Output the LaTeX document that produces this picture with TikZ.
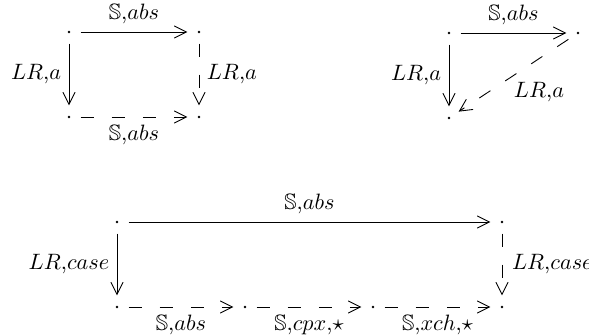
\documentclass[tikz,border=0pt]{standalone}
\usepackage{amsmath, amssymb}
\usepackage{tikz}
\usetikzlibrary{arrows.meta}

\begin{document}
\begin{tikzpicture}[x=0.45pt, y=-0.45pt,
    dotnode/.style={circle, inner sep=0pt, minimum size=10pt},
    arr/.style={-{Straight Barb[length=5.5pt, width=5.5pt]}},
    dasharr/.style={arr, dash pattern=on 6pt off 8pt}]
    \useasboundingbox (0,0) rectangle (589,336);

    % Objects
    \foreach \n/\x/\y in {a/69/32, b/199/32, c/69/117, d/199/117,
                          e/449/33, f/578/33, g/449/118,
                          h/117/222, i/502/222, j/117/307, k/245/307, l/373/307, m/502/307} {
      \node[dotnode] (\n) at (\x,\y) {};
      \fill (\n) circle (0.6pt);
    }

    % Square
    \draw[arr] (a) -- node[above] {$\mathbb{S}$,$abs$} (b);
    \draw[arr] (a) -- node[left] {$LR$,$a$} (c);
    \draw[dasharr] (b) -- node[right] {$LR$,$a$} (d);
    \draw[dasharr] (c) -- node[below] {$\mathbb{S}$,$abs$} (d);

    % Triangle
    \draw[arr] (e) -- node[above] {$\mathbb{S}$,$abs$} (f);
    \draw[arr] (e) -- node[left] {$LR$,$a$} (g);
    \draw[dasharr] (f) -- node[anchor=north west, inner sep=0pt, yshift=-3pt] {$LR$,$a$} (g);

    % Long rectangle
    \draw[arr] (h) -- node[above] {$\mathbb{S}$,$abs$} (i);
    \draw[arr] (h) -- node[left] {$LR$,$case$} (j);
    \draw[dasharr] (i) -- node[right, xshift=1pt] {$LR$,$case$} (m);
    \draw[dasharr] (j) -- node[below] {$\mathbb{S}$,$abs$} (k);
    \draw[dasharr] (k) -- node[below] {$\mathbb{S}$,$cpx$,$\star$} (l);
    \draw[dasharr] (l) -- node[below] {$\mathbb{S}$,$xch$,$\star$} (m);
  \end{tikzpicture}
\end{document}
